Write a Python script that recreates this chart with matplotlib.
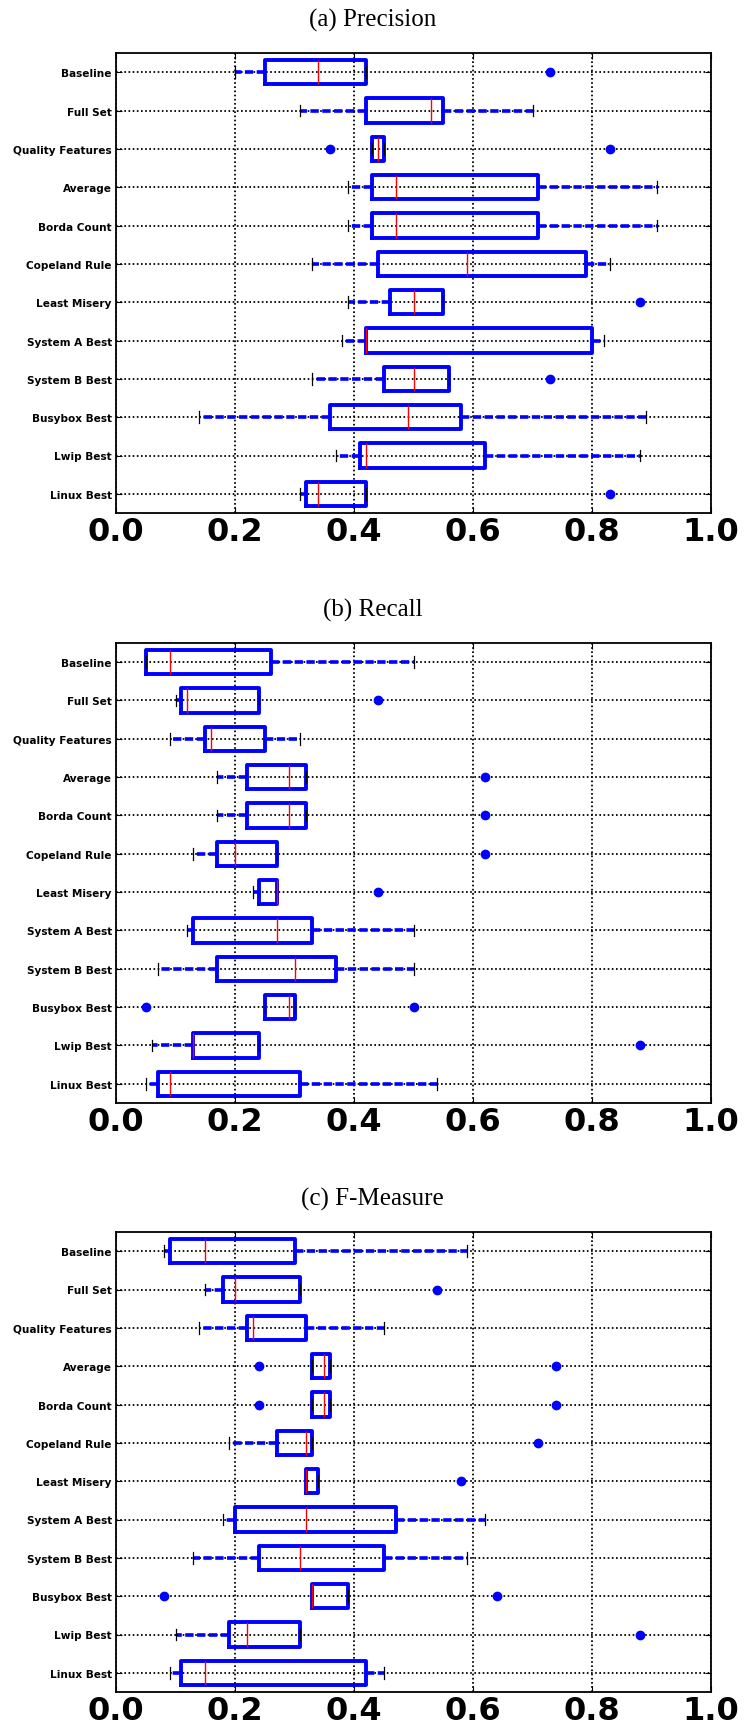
import numpy as np
import matplotlib
matplotlib.use("Agg")
import matplotlib.pyplot as plt

labels = ["Baseline", "Full Set", "Quality Features", "Average", "Borda Count",
          "Copeland Rule", "Least Misery", "System A Best", "System B Best",
          "Busybox Best", "Lwip Best", "Linux Best"]

# (a) Precision
prec_lo = [0.20, 0.31, 0.43, 0.39, 0.39, 0.33, 0.39, 0.38, 0.33, 0.14, 0.37, 0.31]
prec_q1 = [0.25, 0.42, 0.43, 0.43, 0.43, 0.44, 0.46, 0.42, 0.45, 0.36, 0.41, 0.32]
prec_med = [0.34, 0.53, 0.44, 0.47, 0.47, 0.59, 0.50, 0.42, 0.50, 0.49, 0.42, 0.34]
prec_q3 = [0.42, 0.55, 0.45, 0.71, 0.71, 0.79, 0.55, 0.80, 0.56, 0.58, 0.62, 0.42]
prec_hi = [0.42, 0.70, 0.45, 0.91, 0.91, 0.83, 0.55, 0.82, 0.56, 0.89, 0.88, 0.42]
prec_fliers = [[0.73], [], [0.36, 0.83], [], [], [], [0.88], [], [0.73], [], [], [0.83]]

# (b) Recall
rec_lo = [0.05, 0.10, 0.09, 0.17, 0.17, 0.13, 0.23, 0.12, 0.07, 0.25, 0.06, 0.05]
rec_q1 = [0.05, 0.11, 0.15, 0.22, 0.22, 0.17, 0.24, 0.13, 0.17, 0.25, 0.13, 0.07]
rec_med = [0.09, 0.12, 0.16, 0.29, 0.29, 0.20, 0.27, 0.27, 0.30, 0.29, 0.13, 0.09]
rec_q3 = [0.26, 0.24, 0.25, 0.32, 0.32, 0.27, 0.27, 0.33, 0.37, 0.30, 0.24, 0.31]
rec_hi = [0.50, 0.24, 0.31, 0.32, 0.32, 0.27, 0.27, 0.50, 0.50, 0.30, 0.24, 0.54]
rec_fliers = [[], [0.44], [], [0.62], [0.62], [0.62], [0.44], [], [], [0.05, 0.50], [0.88], []]

# (c) F-Measure
f_lo = [0.08, 0.15, 0.14, 0.33, 0.33, 0.19, 0.32, 0.18, 0.13, 0.33, 0.10, 0.09]
f_q1 = [0.09, 0.18, 0.22, 0.33, 0.33, 0.27, 0.32, 0.20, 0.24, 0.33, 0.19, 0.11]
f_med = [0.15, 0.20, 0.23, 0.35, 0.35, 0.32, 0.32, 0.32, 0.31, 0.33, 0.22, 0.15]
f_q3 = [0.30, 0.31, 0.32, 0.36, 0.36, 0.33, 0.34, 0.47, 0.45, 0.39, 0.31, 0.42]
f_hi = [0.59, 0.31, 0.45, 0.36, 0.36, 0.33, 0.34, 0.62, 0.59, 0.39, 0.31, 0.45]
f_fliers = [[], [0.54], [], [0.24, 0.74], [0.24, 0.74], [0.71], [0.58], [], [], [0.08, 0.64], [0.88], []]

xticks = [0.0, 0.2, 0.4, 0.6, 0.8, 1.0]

panels = [
    ("(a) Precision", prec_lo, prec_q1, prec_med, prec_q3, prec_hi, prec_fliers),
    ("(b) Recall", rec_lo, rec_q1, rec_med, rec_q3, rec_hi, rec_fliers),
    ("(c) F-Measure", f_lo, f_q1, f_med, f_q3, f_hi, f_fliers),
]

plt.rcParams['lines.scale_dashes'] = False

fig = plt.figure(figsize=(7.45, 17.31), dpi=100)

H = 1731.0
left = 116 / 745.0
width = 595 / 745.0
axes_tops = [54, 644, 1233]
ax_h = 460
title_base = [27, 617, 1206]

for i, (title, lo, q1, med, q3, hi, fl) in enumerate(panels):
    ax = fig.add_axes([left, 1 - (axes_tops[i] + ax_h) / H, width, ax_h / H])
    stats = []
    for j in range(len(labels)):
        stats.append(dict(whislo=lo[j], q1=q1[j], med=med[j], q3=q3[j],
                          whishi=hi[j], fliers=fl[j]))
    pos = np.arange(len(labels), 0, -1)
    ax.bxp(stats, positions=pos, vert=False, widths=0.64, capwidths=0.3,
           boxprops=dict(color='#0000ff', linewidth=2.8),
           whiskerprops=dict(color='#0000ff', linewidth=2.6,
                             linestyle=(0, (6, 2.5))),
           capprops=dict(color='black', linewidth=0.9),
           medianprops=dict(color='red', linewidth=1.0),
           flierprops=dict(marker='o', markerfacecolor='#0000ff',
                           markeredgecolor='#0000ff', markersize=6,
                           linestyle='none'),
           zorder=3)
    ax.set_xlim(0, 1)
    ax.set_ylim(0.5, len(labels) + 0.5)
    ax.set_yticks(pos)
    ax.set_yticklabels(labels, fontsize=7.6, fontweight='bold')
    ax.set_xticks(xticks)
    ax.set_xticklabels(["%.1f" % v for v in xticks], fontsize=23,
                       fontweight='bold')
    ax.grid(True, color='black', linestyle=(0, (1.2, 1.8)), linewidth=1.3,
            zorder=0)
    ax.set_axisbelow(True)
    ax.tick_params(direction='in', top=True, right=True, length=4,
                   width=0.8)
    ax.tick_params(axis='x', pad=2)
    ax.tick_params(axis='y', pad=3)
    for s in ax.spines.values():
        s.set_linewidth(1.3)
    fig.text(0.5, 1 - title_base[i] / H, title, ha='center', va='baseline',
             fontsize=18, family='Liberation Serif')

fig.savefig("out.png", dpi=100)
